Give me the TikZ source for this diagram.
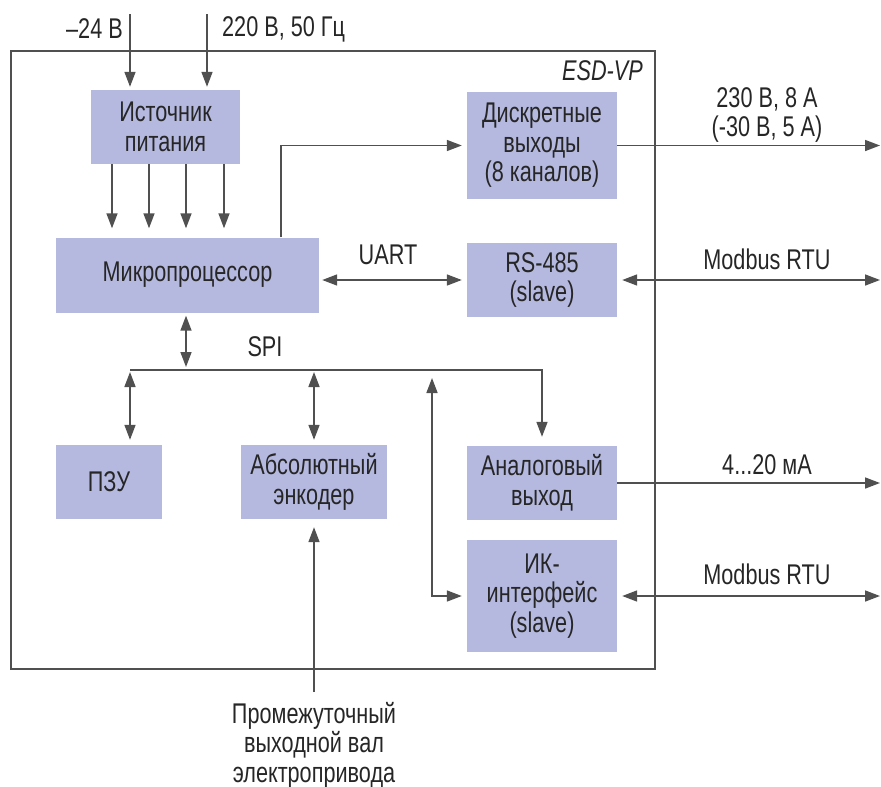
\documentclass[tikz,border=0pt]{standalone}
\usepackage{fontspec}
\setmainfont{Liberation Sans}[FakeStretch=0.76]
\usetikzlibrary{arrows.meta}

\definecolor{blkfill}{RGB}{181,185,223}
\definecolor{wire}{RGB}{80,80,80}

\begin{document}
\begin{tikzpicture}[
  x=1pt, y=-1pt,
  font=\fontsize{28.5}{29.5}\selectfont, text=black!85,
  blk/.style={fill=blkfill, align=center, inner sep=0pt},
  sig/.style={draw=wire, line width=1.6pt, -{Triangle[length=15pt,width=11pt]}},
  bidir/.style={draw=wire, line width=1.6pt, {Triangle[length=15pt,width=11pt]}-{Triangle[length=15pt,width=11pt]}},
  lbl/.style={align=center, inner sep=0pt}
]
\useasboundingbox (0,0) rectangle (881,787);

% device frame
\node[draw=wire, line width=1.6pt, minimum width=644pt, minimum height=618pt, inner sep=0pt] (esd) at (333,360) {};
\node[lbl, anchor=east] at (643,71) {\itshape ESD-VP};

% blocks
\node[blk, minimum width=149pt, minimum height=74pt] (psu) at (165.5,127) {Источник\\питания};
\node[blk, minimum width=263pt, minimum height=75pt] (mcu) at (187.5,275) {Микропроцессор};
\node[blk, minimum width=150pt, minimum height=107pt] (dout) at (542,145.5) {Дискретные\\выходы\\(8 каналов)};
\node[blk, minimum width=150pt, minimum height=74pt] (rs) at (542,280) {RS-485\\(slave)};
\node[blk, minimum width=106pt, minimum height=74pt] (rom) at (109,482) {ПЗУ};
\node[blk, minimum width=146pt, minimum height=74pt] (enc) at (314,482) {Абсолютный\\энкодер};
\node[blk, minimum width=150pt, minimum height=74pt] (aout) at (542,483) {Аналоговый\\выход};
\node[blk, minimum width=150pt, minimum height=112pt] (ir) at (542,596) {ИК-\\интерфейс\\(slave)};

% supply inputs
\coordinate (in24) at (130,14);
\coordinate (in220) at (207,14);
\draw[sig, shorten >=3pt] (in24) -- (in24 |- psu.north);
\draw[sig, shorten >=3pt] (in220) -- (in220 |- psu.north);
\node[lbl, anchor=east] at (123,29) {–24 В};
\node[lbl, anchor=west] at (222,29) {220 В, 50 Гц};

\foreach \x in {112,149,186,224}
  \draw[sig, shorten >=9pt] (psu.south -| \x,0) -- (mcu.north -| \x,0);

% outputs
\coordinate (o1) at (880,145.5);
\coordinate (o2) at (880,280);
\coordinate (o3) at (880,483);
\coordinate (o4) at (880,596);
\draw[sig, shorten >=5pt] (mcu.north -| 281,0) |- (dout.west);
\draw[sig] (dout.east) -- (o1);
\node[lbl] at (767,115) {230 В, 8 А\\(-30 В, 5 А)};

\draw[bidir, shorten <=3pt, shorten >=5pt] (mcu.east |- rs.west) -- (rs.west);
\node[lbl] at (388,255) {UART};
\draw[bidir, shorten <=5pt] (rs.east) -- (o2);
\node[lbl] at (767,259) {Modbus RTU};

% SPI bus
\coordinate (busL) at (130,370);
\draw[bidir, shorten <=3pt, shorten >=3pt] (mcu.south -| 186,0) -- (busL -| 186,0);
\node[lbl] at (265,347) {SPI};
\draw[sig, shorten >=9pt] (busL) -| (aout.north);
\draw[bidir, shorten <=2pt, shorten >=5pt] (busL) -- (busL |- rom.north);
\draw[bidir, shorten <=2pt, shorten >=5pt] (busL -| enc.north) -- (enc.north);
\draw[bidir, shorten <=5pt, shorten >=8pt] (ir.west) -| (busL -| 432,0);

\draw[sig] (aout.east) -- (o3);
\node[lbl] at (767,465) {4...20 мА};
\draw[bidir, shorten <=5pt] (ir.east) -- (o4);
\node[lbl] at (767,574) {Modbus RTU};

% shaft input
\coordinate (shaft) at (314,692);
\draw[sig, shorten >=8pt] (shaft) -- (enc.south);
\node[lbl] at (314,745) {Промежуточный\\выходной вал\\электропривода};
\end{tikzpicture}
\end{document}
